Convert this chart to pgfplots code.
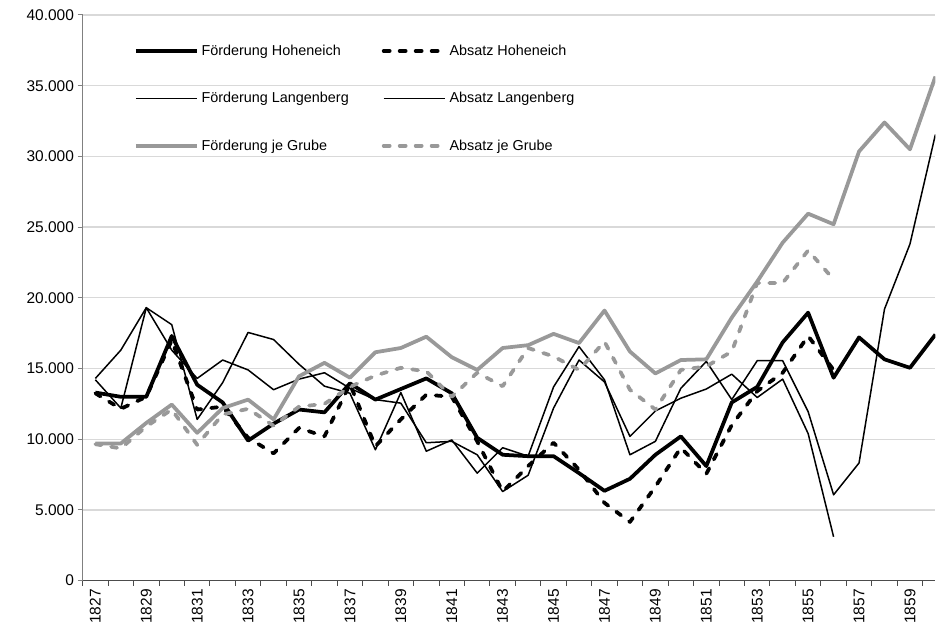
\documentclass[border=0pt]{standalone}
\usepackage{fontspec}
\setmainfont{Liberation Sans}
\usepackage{pgfplots}
\pgfplotsset{compat=1.18}
\usepackage{pgfplotstable}
\definecolor{grube}{RGB}{153,153,153}
\definecolor{gridc}{RGB}{217,217,217}

% FH/AH = Foerderung/Absatz Hoheneich, FL/AL = Langenberg, FG/AG = je Grube
\pgfplotstableread{
year FH AH FL AL FG AG
1827 13300 13250 14300 14200 9700 9650
1828 13000 12150 16300 12200 9700 9350
1829 13000 13000 19300 19300 11150 10900
1830 17300 17000 18100 16300 12450 12100
1831 13850 12100 11400 14300 10450 9600
1832 12600 12300 14000 15600 12200 11750
1833 9900 10100 17550 14900 12800 12150
1834 11100 9000 17050 13500 11400 10950
1835 12100 10800 15300 14250 14450 12300
1836 11900 10200 13750 14700 15400 12500
1837 13950 13900 13250 13600 14350 13700
1838 12800 9500 9250 12800 16150 14500
1839 13550 11400 13300 12550 16450 15050
1840 14300 13150 9150 9750 17250 14800
1841 13250 13000 9950 9850 15800 13000
1842 10100 9850 7600 8900 14900 14700
1843 8900 6300 9400 6300 16450 13750
1844 8800 8100 8800 7450 16650 16450
1845 8800 9750 13700 12200 17450 15850
1846 7600 7850 16550 15600 16800 14900
1847 6350 5500 14200 14050 19100 16900
1848 7200 4150 8900 10200 16200 13500
1849 8900 6650 9850 12000 14650 12100
1850 10200 9400 13600 12900 15600 14900
1851 8100 7550 15500 13550 15650 15150
1852 12600 11000 12800 14600 18600 16200
1853 13700 13400 15550 12950 21150 21050
1854 16850 14700 15550 14250 23900 21050
1855 18950 17300 11950 10400 25950 23350
1856 14350 14900 6070 3100 25200 21300
1857 17200 nan 8320 nan 30350 nan
1858 15650 nan 19200 nan 32400 nan
1859 15050 nan 23800 nan 30500 nan
1860 17400 nan 31550 nan 35650 nan
}\data

\begin{document}
\begin{tikzpicture}
\path (0,0) rectangle (936pt,631pt);
\begin{axis}[
  at={(82.7pt,50pt)}, anchor=south west,
  scale only axis, width=853.3pt, height=566pt,
  xmin=1826.5, xmax=1860, ymin=0, ymax=40000,
  axis lines*=left,
  x axis line style={black!70, line width=1pt},
  y axis line style={black!50, line width=1pt},
  tick align=outside,
  major tick length=5pt, minor tick length=5pt,
  ytick={0,5000,...,40000},
  xtick={1827,1829,...,1859},
  minor xtick={1826.5,1827.5,...,1859.5},
  major x tick style={draw=none},
  minor x tick style={black!70, line width=1pt},
  major y tick style={black!50, line width=1pt},
  ymajorgrids,
  major grid style={gridc, line width=1.2pt},
  scaled y ticks=false,
  tick label style={font=\fontsize{15.5}{18}\selectfont},
  /pgf/number format/assume math mode=true,
  yticklabel style={inner sep=3.5pt, /pgf/number format/.cd, fixed, use comma, 1000 sep={.}},
  xticklabel style={rotate=90, anchor=east, inner sep=3.5pt, /pgf/number format/.cd, fixed, 1000 sep={}},
  legend columns=2,
  legend cell align=left,
  legend image code/.code={\draw[#1] (0pt,0pt) -- (61pt,0pt);},
  legend style={draw=none, fill=none, at={(0.0601,0.947)}, anchor=north west,
    inner sep=0pt, outer sep=0pt, row sep=35.5pt, column sep=3pt,
    font=\fontsize{14.4}{17}\selectfont,
    nodes={inner sep=0pt},
    /tikz/every even column/.append style={column sep=33pt}},
  every axis plot/.append style={line join=round},
]
\addplot[black, line width=3.75pt] table[x=year, y=FH] {\data};
\addplot[black, line width=3.75pt, line cap=round, dash pattern=on 6pt off 10pt] table[x=year, y=AH] {\data};
\addplot[black, line width=1.5pt] table[x=year, y=FL] {\data};
\addplot[black, line width=1.5pt] table[x=year, y=AL] {\data};
\addplot[grube, line width=3.75pt] table[x=year, y=FG] {\data};
\addplot[grube, line width=3.75pt, line cap=round, dash pattern=on 6pt off 10pt] table[x=year, y=AG] {\data};
\legend{Förderung Hoheneich, Absatz Hoheneich, Förderung Langenberg, Absatz Langenberg, Förderung je Grube, Absatz je Grube}
\end{axis}
\end{tikzpicture}
\end{document}
